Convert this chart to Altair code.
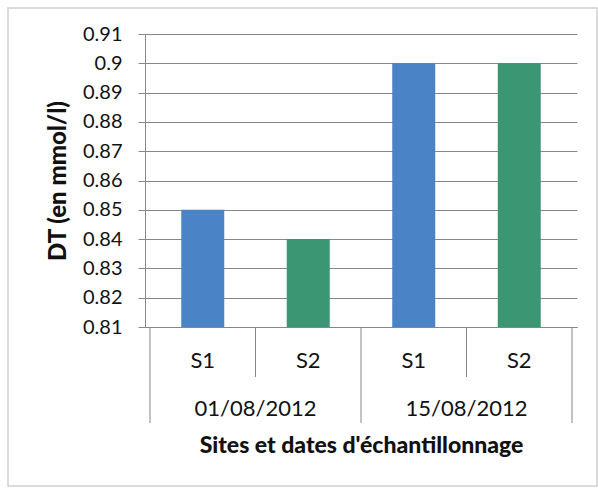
import altair as alt
import pandas as pd

# Water hardness (DT) per sampling site and date
dates = ["01/08/2012", "01/08/2012", "15/08/2012", "15/08/2012"]
sites = ["S1", "S2", "S1", "S2"]
dt_values = [0.85, 0.84, 0.90, 0.90]

y_ticks = [0.81, 0.82, 0.83, 0.84, 0.85, 0.86, 0.87, 0.88, 0.89, 0.90, 0.91]
y_labels = ["0.81", "0.82", "0.83", "0.84", "0.85", "0.86", "0.87", "0.88", "0.89", "0.9", "0.91"]

FONT = "Lato"
BLUE = "#4a84c6"
GREEN = "#3b9674"
GRID = "#878787"
INK = "#111111"

W, H = 432, 293

bars = pd.DataFrame({
    "date": dates,
    "site": sites,
    "dt": dt_values,
    "pos": [i + 0.5 for i in range(len(sites))],
})

# one label per sampling date, centred on its group of sites
date_groups = []
for i, d in enumerate(dates):
    if not date_groups or date_groups[-1]["date"] != d:
        date_groups.append({"date": d, "start": i, "end": i + 1})
    else:
        date_groups[-1]["end"] = i + 1
date_df = pd.DataFrame(
    [{"date": g["date"], "pos": (g["start"] + g["end"]) / 2} for g in date_groups]
)

# separators between categories: long at date boundaries, short between sites
edges = []
for i in range(len(sites) + 1):
    is_date_edge = i == 0 or i == len(sites) or dates[i] != dates[i - 1]
    edges.append({"pos": i, "kind": "date" if is_date_edge else "site"})
edge_df = pd.DataFrame(edges)

x_scale = alt.Scale(domain=[0, len(sites)], nice=False, zero=False)
y_scale = alt.Scale(domain=[y_ticks[0], y_ticks[-1]], nice=False, zero=False)

y_label_expr = "{" + ",".join(f"'{v:.2f}':'{l}'" for v, l in zip(y_ticks, y_labels)) + "}[format(datum.value, '.2f')]"

bar_layer = alt.Chart(bars).mark_bar(size=43).encode(
    x=alt.X(
        "pos:Q",
        scale=x_scale,
        axis=alt.Axis(
            labels=False, ticks=False, grid=False, domain=True,
            domainColor=GRID, domainWidth=1,
            title="Sites et dates d'échantillonnage",
            titleFont=FONT, titleFontSize=23, titleFontWeight=900,
            titleColor=INK, titlePadding=107,
        ),
    ),
    y=alt.Y(
        "dt:Q",
        scale=y_scale,
        axis=alt.Axis(
            values=y_ticks, labelExpr=y_label_expr,
            labelFont=FONT, labelFontSize=20, labelColor=INK,
            labelPadding=16, tickSize=7, tickColor=GRID,
            domainColor=GRID, gridColor=GRID, gridWidth=1,
            title="DT (en mmol/l)",
            titleFont=FONT, titleFontSize=24, titleFontWeight=900,
            titleColor=INK, titlePadding=12,
        ),
    ),
    y2=alt.datum(y_ticks[0]),
    color=alt.Color(
        "site:N",
        scale=alt.Scale(domain=["S1", "S2"], range=[BLUE, GREEN]),
        legend=None,
    ),
)

site_labels = alt.Chart(bars).mark_text(
    font=FONT, fontSize=22, color=INK, baseline="middle"
).encode(
    x=alt.X("pos:Q", scale=x_scale),
    y=alt.value(327),
    text="site:N",
)

date_labels = alt.Chart(date_df).mark_text(
    font=FONT, fontSize=22, color=INK, baseline="middle"
).encode(
    x=alt.X("pos:Q", scale=x_scale),
    y=alt.value(375),
    text="date:N",
)

date_separators = alt.Chart(edge_df).transform_filter(
    alt.datum.kind == "date"
).mark_rule(color=GRID, strokeWidth=1).encode(
    x=alt.X("pos:Q", scale=x_scale),
    y=alt.value(H),
    y2=alt.value(389),
)

site_separators = alt.Chart(edge_df).transform_filter(
    alt.datum.kind == "site"
).mark_rule(color=GRID, strokeWidth=1).encode(
    x=alt.X("pos:Q", scale=x_scale),
    y=alt.value(H),
    y2=alt.value(343),
)

frame = alt.Chart(pd.DataFrame({"k": [0]})).mark_rect(
    fill=None, stroke="#cfcfcf", strokeWidth=1.5
).encode(
    x=alt.value(-137), x2=alt.value(452),
    y=alt.value(-26), y2=alt.value(452),
)

chart = alt.layer(
    frame, bar_layer, date_separators, site_separators, site_labels, date_labels
).properties(
    width=W,
    height=H,
    autosize=alt.AutoSizeParams(type="none"),
    padding={"left": 145, "top": 34, "right": 21, "bottom": 161},
    background="white",
).configure_view(stroke=None)

chart.save("out.html", embed_options={"renderer": "svg", "actions": False})
